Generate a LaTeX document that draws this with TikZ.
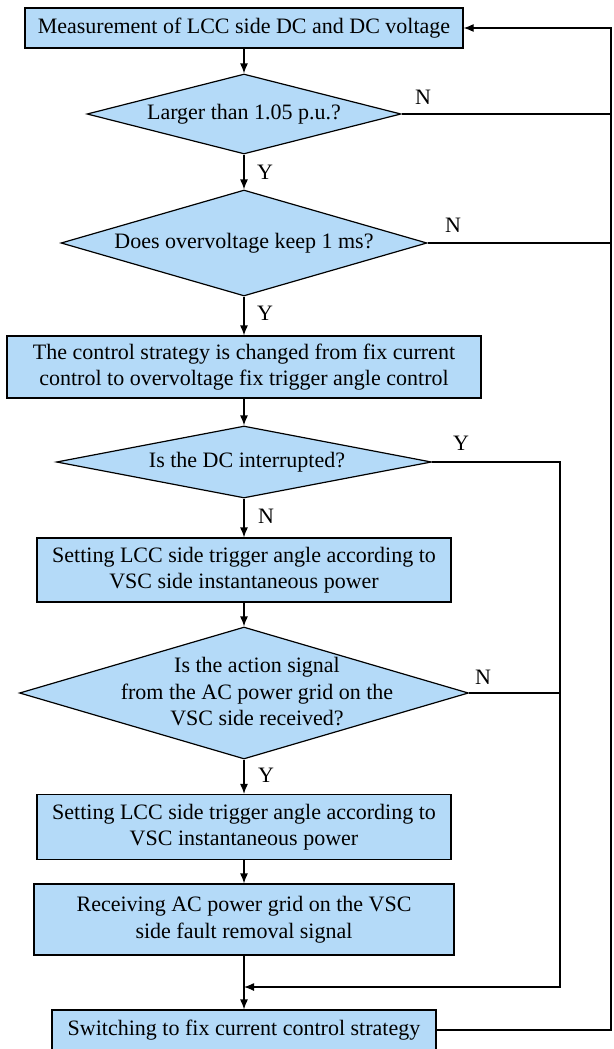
\documentclass[tikz,border=0pt]{standalone}
\usepackage{fontspec}
\setmainfont{Liberation Serif}
\usetikzlibrary{shapes.geometric,arrows.meta}
\definecolor{boxblue}{RGB}{180,218,248}
\begin{document}
\begin{tikzpicture}[x=1pt,y=-1pt,
  every node/.style={font=\fontsize{22}{26.5}\selectfont},
  procbox/.style={draw,fill=boxblue,line width=1.2pt,inner sep=0pt,align=center},
  decbox/.style={draw,fill=boxblue,line width=1.2pt,inner sep=0pt,shape=diamond},
  dectext/.style={align=center,inner sep=0pt},
  lab/.style={inner sep=0pt},
  conn/.style={line width=1.2pt},
  arr/.style={conn,-{Latex[length=10pt,width=8pt]}}]
\useasboundingbox (0,0) rectangle (613,1049);
\node[procbox,minimum width=438pt,minimum height=40pt] (b1) at (244,28) {Measurement of LCC side DC and DC voltage};
\node[decbox,minimum width=314pt,minimum height=80pt] (d1) at (244,114) {};
\node[dectext] (t1) at (244,114) {Larger than 1.05 p.u.?};
\node[decbox,minimum width=366pt,minimum height=106pt] (d2) at (244,243) {};
\node[dectext] (t2) at (244,243) {Does overvoltage keep 1 ms?};
\node[procbox,minimum width=474pt,minimum height=62pt] (b3) at (244,367) {The control strategy is changed from fix current\\control to overvoltage fix trigger angle control};
\node[decbox,minimum width=375pt,minimum height=72pt] (d3) at (244,462) {};
\node[dectext] (t3) at (247,462) {Is the DC interrupted?};
\node[procbox,minimum width=414pt,minimum height=64pt] (b4) at (244,570) {Setting LCC side trigger angle according to\\VSC side instantaneous power};
\node[decbox,minimum width=449pt,minimum height=132pt] (d4) at (244,693) {};
\node[dectext] (t4) at (257,692) {Is the action signal\\from the AC power grid on the\\VSC side received?};
\node[procbox,minimum width=414pt,minimum height=65pt] (b5) at (244,827) {Setting LCC side trigger angle according to\\VSC instantaneous power};
\node[procbox,minimum width=420pt,minimum height=71pt] (b6) at (244,919.5) {Receiving AC power grid on the VSC\\side fault removal signal};
\node[procbox,minimum width=384pt,minimum height=40pt] (b7) at (244,1030) {Switching to fix current control strategy};
\node[lab] (y1) at (265,172) {Y};
\node[lab] (y2) at (265,313) {Y};
\node[lab] (n3) at (266,516) {N};
\node[lab] (y4) at (266,775) {Y};
\node[lab] (n1) at (423,97) {N};
\node[lab] (n2) at (453,225) {N};
\node[lab] (y3) at (461,443) {Y};
\node[lab] (n4) at (483,677) {N};
\coordinate (rtop) at (611,28);
\coordinate (rmid) at (560,987);
\coordinate (join) at (244,987);
\draw[arr] (b1) -- (d1);
\draw[arr] (d1) -- (d2);
\draw[arr] (d2) -- (b3);
\draw[arr] (b3) -- (d3);
\draw[arr] (d3) -- (b4);
\draw[arr] (b4) -- (d4);
\draw[arr] (d4) -- (b5);
\draw[arr] (b5) -- (b6);
\draw[arr] (b6) -- (b7);
\draw[conn] (d1.east) -- (d1.east -| rtop);
\draw[conn] (d2.east) -- (d2.east -| rtop);
\draw[arr] (b7.east) -| (rtop) -- (b1.east);
\draw[conn] (d4.east) -- (d4.east -| rmid);
\draw[arr] (d3.east) -| (rmid) -- (join);
\end{tikzpicture}
\end{document}
